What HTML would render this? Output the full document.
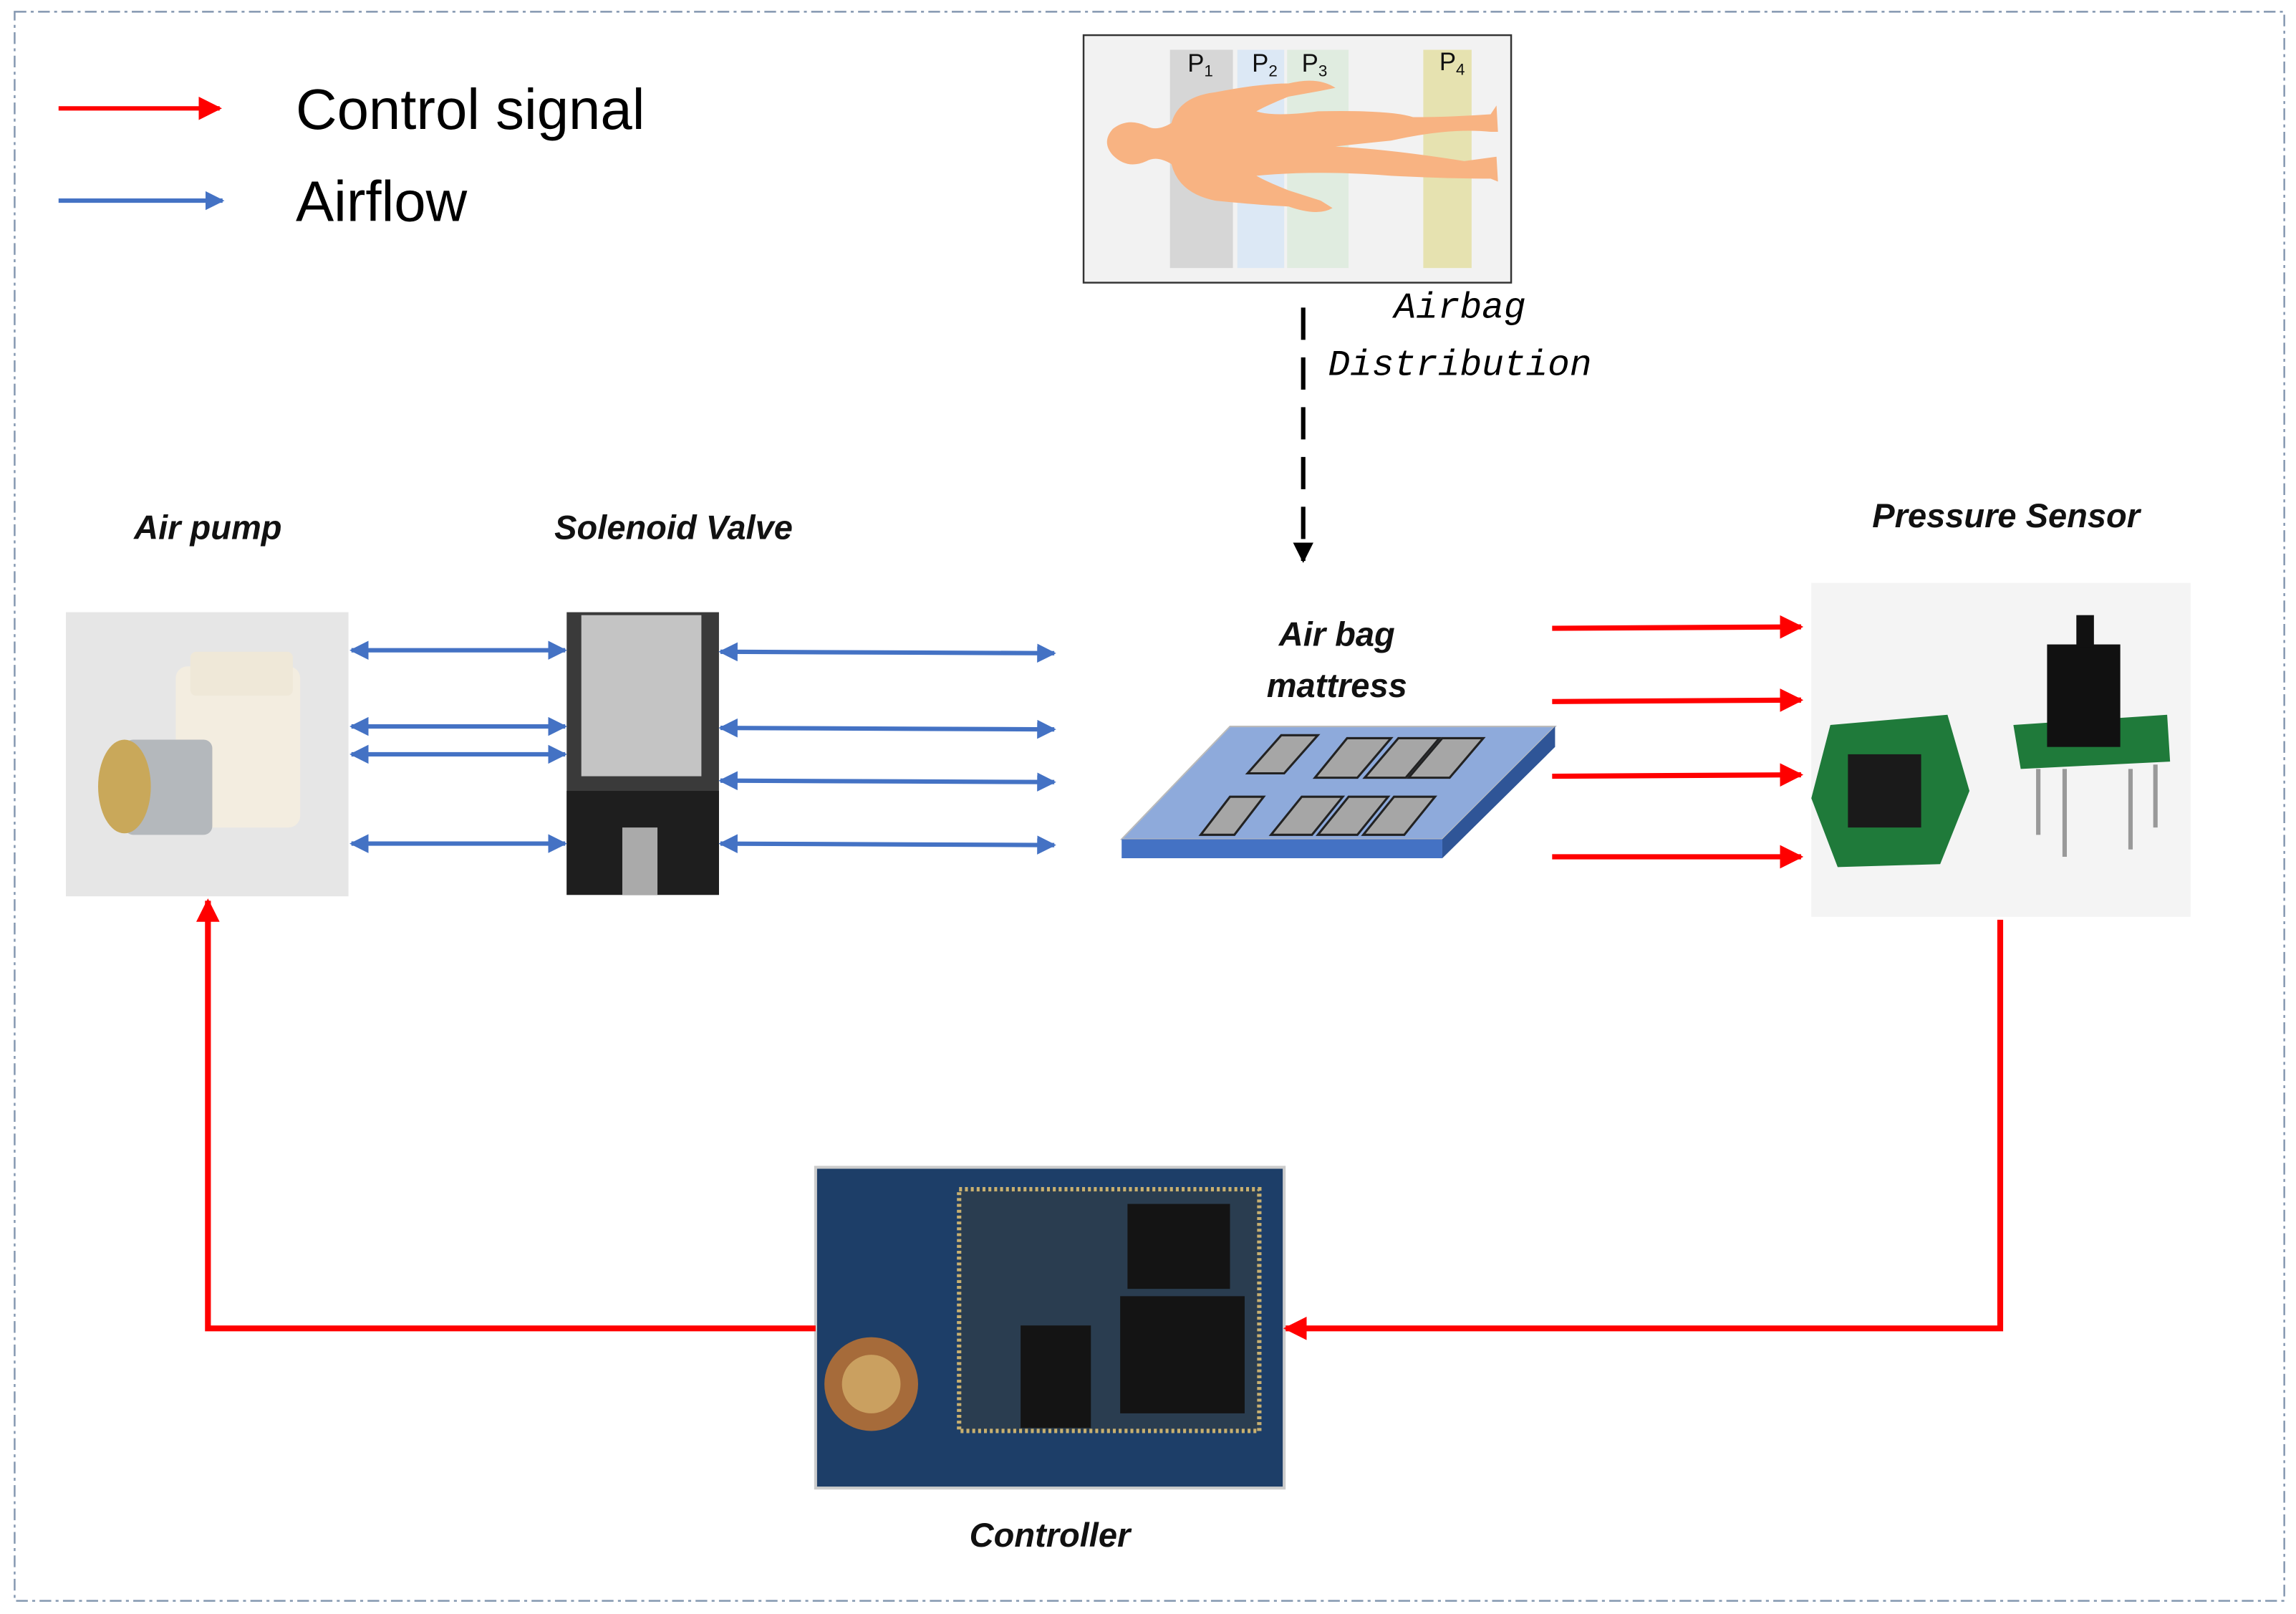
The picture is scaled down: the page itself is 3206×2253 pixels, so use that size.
<!DOCTYPE html>
<html><head><meta charset="utf-8"><style>html,body{margin:0;padding:0;background:#fff}svg{display:block}</style></head><body>
<svg width="3206" height="2253" viewBox="0 0 1568 1102" preserveAspectRatio="none" xmlns="http://www.w3.org/2000/svg" font-family="Liberation Sans, sans-serif">
<defs>
<marker id="rbig" viewBox="0 0 10 10" refX="9" refY="5" markerWidth="16" markerHeight="16" orient="auto" markerUnits="userSpaceOnUse"><path d="M0,0 L10,5 L0,10 Z" fill="#f00"/></marker>
<marker id="be" viewBox="0 0 10 10" refX="9" refY="5" markerWidth="13" markerHeight="13" orient="auto" markerUnits="userSpaceOnUse"><path d="M0,0 L10,5 L0,10 Z" fill="#4472c4"/></marker>
<marker id="bs" viewBox="0 0 10 10" refX="1" refY="5" markerWidth="13" markerHeight="13" orient="auto" markerUnits="userSpaceOnUse"><path d="M10,0 L0,5 L10,10 Z" fill="#4472c4"/></marker>
<marker id="ke" viewBox="0 0 10 10" refX="9" refY="5" markerWidth="14" markerHeight="14" orient="auto" markerUnits="userSpaceOnUse"><path d="M0,0 L10,5 L0,10 Z" fill="#000"/></marker>
</defs>
<rect x="10" y="8" width="1550" height="1085" fill="none" stroke="#8497b0" stroke-width="1.2" stroke-dasharray="8,3,2,3"/>
<line x1="40" y1="74" x2="150" y2="74" stroke="#f00" stroke-width="3" marker-end="url(#rbig)"/>
<text x="202" y="88" font-size="39">Control signal</text>
<line x1="40" y1="137" x2="152" y2="137" stroke="#4472c4" stroke-width="3" marker-end="url(#be)"/>
<text x="202" y="151" font-size="39">Airflow</text>
<rect x="740" y="24" width="292" height="169" fill="#f2f2f2" stroke="#333" stroke-width="1.2"/>
<rect x="799" y="34" width="43" height="149" fill="#d6d6d6"/>
<rect x="845" y="34" width="32" height="149" fill="#dce8f5"/>
<rect x="879" y="34" width="42" height="149" fill="#e0ece0"/>
<rect x="972" y="34" width="33" height="149" fill="#e6e2b0"/>
<g font-size="17" fill="#111"><text x="811" y="49">P<tspan font-size="11" dy="3">1</tspan></text><text x="855" y="49">P<tspan font-size="11" dy="3">2</tspan></text><text x="889" y="49">P<tspan font-size="11" dy="3">3</tspan></text><text x="983" y="48">P<tspan font-size="11" dy="3">4</tspan></text></g>
<path d="M760,88 Q770,80 783,86 Q790,90 800,84 Q805,66 830,63 Q860,57 880,57 Q900,52 912,60 L902,62 L880,66 Q865,72 858,76 Q870,80 900,76 Q950,75 965,80 Q990,80 1018,78 L1022,72 L1023,90 L1018,90 Q990,87 950,96 Q930,98 912,100 Q950,102 1000,110 L1022,107 L1023,124 L1018,122 Q990,122 950,120 Q900,116 858,120 Q865,124 880,130 L902,137 L910,142 Q900,148 880,141 Q860,140 830,137 Q805,132 800,112 Q790,106 783,110 Q770,116 760,106 Q752,97 760,88 Z" fill="#f8b382"/>
<text x="997" y="217" font-family="Liberation Mono, monospace" font-style="italic" font-size="25" text-anchor="middle">Airbag</text>
<text x="997" y="256" font-family="Liberation Mono, monospace" font-style="italic" font-size="25" text-anchor="middle">Distribution</text>
<line x1="890" y1="210" x2="890" y2="383" stroke="#000" stroke-width="3" stroke-dasharray="22,12" marker-end="url(#ke)"/>
<g font-weight="bold" font-style="italic" font-size="23" text-anchor="middle" fill="#111">
<text x="142" y="368">Air pump</text><text x="460" y="368">Solenoid Valve</text><text x="1370" y="360">Pressure Sensor</text>
<text x="913" y="441">Air bag</text><text x="913" y="476">mattress</text><text x="717" y="1056">Controller</text></g>
<rect x="45" y="418" width="193" height="194" fill="#e6e6e6"/>
<rect x="120" y="455" width="85" height="110" rx="8" fill="#f3ede0"/>
<rect x="130" y="445" width="70" height="30" rx="4" fill="#efe8d8"/>
<rect x="85" y="505" width="60" height="65" rx="6" fill="#b4b8bc"/>
<ellipse cx="85" cy="537" rx="18" ry="32" fill="#c9a85a"/>
<rect x="387" y="418" width="104" height="193" fill="#3a3a3a"/>
<rect x="397" y="420" width="82" height="110" fill="#c4c4c4"/>
<rect x="387" y="540" width="104" height="71" fill="#1e1e1e"/>
<rect x="425" y="565" width="24" height="46" fill="#aaa"/>
<g stroke="#4472c4" stroke-width="3">
<line x1="240" y1="444" x2="386" y2="444" marker-start="url(#bs)" marker-end="url(#be)"/>
<line x1="240" y1="496" x2="386" y2="496" marker-start="url(#bs)" marker-end="url(#be)"/>
<line x1="240" y1="515" x2="386" y2="515" marker-start="url(#bs)" marker-end="url(#be)"/>
<line x1="240" y1="576" x2="386" y2="576" marker-start="url(#bs)" marker-end="url(#be)"/>
<line x1="492" y1="445" x2="720" y2="446" marker-start="url(#bs)" marker-end="url(#be)"/>
<line x1="492" y1="497" x2="720" y2="498" marker-start="url(#bs)" marker-end="url(#be)"/>
<line x1="492" y1="533" x2="720" y2="534" marker-start="url(#bs)" marker-end="url(#be)"/>
<line x1="492" y1="576" x2="720" y2="577" marker-start="url(#bs)" marker-end="url(#be)"/>
</g>
<polygon points="766,573 840,496 1062,496 985,573" fill="#8eaadb" stroke="#bbb"/>
<polygon points="766,573 985,573 985,586 766,586" fill="#4472c4"/>
<polygon points="985,573 1062,496 1062,510 985,586" fill="#2f5597"/>
<g fill="#a6a6a6" stroke="#222" stroke-width="1.5">
<polygon points="852,528 875,502 900,502 877,528"/><polygon points="898,531 920,504 950,504 927,531"/><polygon points="932,531 955,504 983,504 960,531"/><polygon points="962,531 985,504 1013,504 990,531"/>
<polygon points="820,570 840,544 863,544 843,570"/><polygon points="868,570 889,544 917,544 896,570"/><polygon points="900,570 921,544 948,544 927,570"/><polygon points="931,570 952,544 980,544 959,570"/>
</g>
<g stroke="#f00" stroke-width="3.5">
<line x1="1060" y1="429" x2="1230" y2="428" marker-end="url(#rbig)"/>
<line x1="1060" y1="479" x2="1230" y2="478" marker-end="url(#rbig)"/>
<line x1="1060" y1="530" x2="1230" y2="529" marker-end="url(#rbig)"/>
<line x1="1060" y1="585" x2="1230" y2="585" marker-end="url(#rbig)"/>
</g>
<rect x="1237" y="398" width="259" height="228" fill="#f4f4f4"/>
<polygon points="1250,495 1330,488 1345,540 1325,590 1255,592 1237,545" fill="#1f7a3a"/>
<rect x="1262" y="515" width="50" height="50" fill="#1a1a1a"/>
<polygon points="1375,495 1480,488 1482,520 1380,525" fill="#1f7a3a"/>
<rect x="1398" y="440" width="50" height="70" fill="#111"/><rect x="1418" y="420" width="12" height="22" fill="#111"/>
<g stroke="#999" stroke-width="3"><line x1="1392" y1="525" x2="1392" y2="570"/><line x1="1410" y1="525" x2="1410" y2="585"/><line x1="1455" y1="525" x2="1455" y2="580"/><line x1="1472" y1="522" x2="1472" y2="565"/></g>
<rect x="557" y="797" width="320" height="219" fill="#1d3e68" stroke="#ccc" stroke-width="2"/>
<rect x="655" y="812" width="205" height="165" fill="#2a3d50" stroke="#c8b070" stroke-width="3" stroke-dasharray="2,2"/>
<rect x="770" y="822" width="70" height="58" fill="#141414"/>
<rect x="765" y="885" width="85" height="80" fill="#141414"/>
<rect x="697" y="905" width="48" height="70" fill="#141414"/>
<circle cx="595" cy="945" r="32" fill="#a66b3a"/><circle cx="595" cy="945" r="20" fill="#caa060"/>
<polyline points="1366,628 1366,907 878,907" fill="none" stroke="#f00" stroke-width="4" marker-end="url(#rbig)"/>
<polyline points="557,907 142,907 142,615" fill="none" stroke="#f00" stroke-width="4" marker-end="url(#rbig)"/>
</svg>
</body></html>
